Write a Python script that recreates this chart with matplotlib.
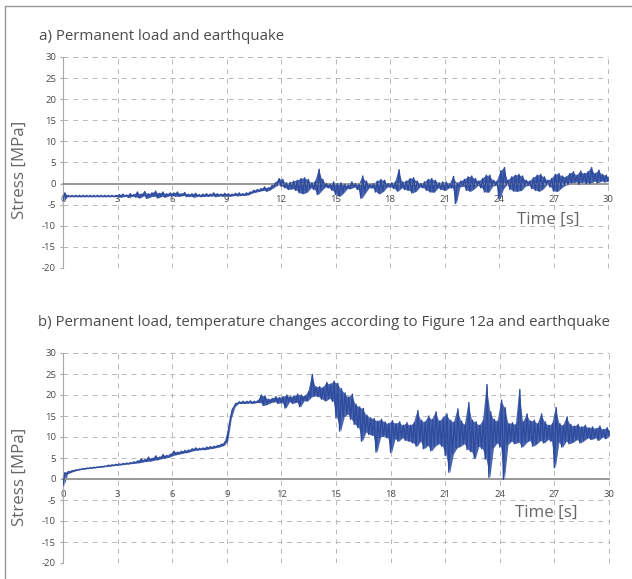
import numpy as np
import matplotlib
matplotlib.use("Agg")
import matplotlib.pyplot as plt
from matplotlib.lines import Line2D

plt.rcParams['font.family'] = ['Open Sans', 'DejaVu Sans']

# ---------------- data ----------------
T0 = 0.0
DT = 0.2  # sampling step of the envelope lists [s]

# Panel a: Permanent load and earthquake  (upper / lower envelope, every 0.2 s)
stress_a_hi = [
    -2.2, -2.8, -2.8, -2.8, -2.8,
    -2.8, -2.8, -2.8, -2.8, -2.8,
    -2.8, -2.8, -2.8, -2.8, -2.8,
    -2.6, -2.5, -2.7, -2.4, -2.6,
    -2.0, -2.5, -1.9, -2.4, -2.2,
    -1.8, -2.3, -2.0, -2.4, -2.2,
    -2.2, -2.0, -2.4, -2.1, -2.5,
    -2.4, -2.3, -2.6, -2.5, -2.4,
    -2.5, -2.2, -2.4, -2.5, -2.3,
    -2.4, -2.5, -2.3, -2.2, -2.4,
    -2.2, -2.0, -1.6, -1.4, -1.2,
    -0.8, -1.0, -0.5, 0.2, 1.2,
    1.0, 0.2, 0.3, 0.6, 0.8,
    1.2, 1.4, 1.0, 0.2, 0.6,
    3.4, 1.0, 0.0, -0.2, 0.4,
    0.0, 0.2, -0.2, -0.4, 0.4,
    0.0, -0.2, 1.8, 0.6, -0.2,
    0.0, 0.6, 1.0, 0.8, 0.0,
    0.2, 0.4, 3.3, 0.4, 0.6,
    1.2, 1.4, 0.6, 0.0, 0.4,
    1.0, 1.2, 0.8, 0.2, 0.4,
    0.4, 0.0, 1.7, 0.2, 0.6,
    1.0, 1.6, 1.8, 1.2, 0.6,
    1.2, 2.0, 2.0, 0.8, 0.6,
    3.0, 3.8, 0.8, 1.6, 2.0,
    2.2, 1.8, 0.8, 0.6, 1.4,
    2.0, 2.2, 1.6, 0.8, 1.2,
    2.2, 2.4, 1.8, 1.6, 2.4,
    2.8, 2.0, 3.0, 2.4, 2.8,
    3.8, 2.4, 3.2, 2.2, 2.0,
    1.5,
]
stress_a_lo = [
    -4.0, -3.1, -3.1, -3.1, -3.1,
    -3.1, -3.1, -3.1, -3.1, -3.1,
    -3.1, -3.1, -3.1, -3.1, -3.1,
    -3.1, -3.2, -3.0, -3.3, -3.0,
    -3.2, -3.4, -2.9, -3.5, -3.1,
    -3.0, -3.4, -3.0, -3.2, -2.9,
    -2.9, -3.0, -3.0, -2.8, -3.1,
    -3.0, -3.2, -3.0, -3.1, -3.0,
    -3.0, -2.9, -3.1, -2.9, -3.0,
    -2.9, -3.0, -2.8, -2.9, -2.8,
    -2.8, -2.6, -2.2, -2.0, -1.8,
    -1.6, -1.8, -1.4, -0.8, -0.3,
    -0.6, -1.0, -1.4, -1.2, -1.6,
    -2.2, -2.4, -2.0, -1.0, -1.4,
    -2.6, -1.6, -0.8, -1.0, -1.6,
    -2.6, -3.0, -2.2, -1.2, -1.2,
    -0.8, -1.4, -3.5, -2.2, -1.0,
    -1.0, -2.0, -2.4, -1.8, -0.8,
    -0.8, -1.2, -1.8, -1.0, -1.4,
    -1.6, -2.2, -1.8, -0.8, -1.0,
    -1.6, -2.0, -2.0, -1.0, -1.4,
    -1.6, -1.0, -1.0, -4.7, -0.8,
    -0.6, -1.6, -1.8, -1.2, -0.4,
    -1.0, -2.0, -2.0, -0.6, -0.4,
    -3.6, -1.2, -0.2, -1.4, -1.8,
    -1.8, -1.6, -0.6, -0.4, -1.2,
    -1.6, -1.8, -1.2, -0.2, -0.8,
    -1.8, -1.8, -1.0, -0.4, -0.2,
    0.2, 0.4, -0.2, 0.4, 0.0,
    0.0, 0.6, 0.2, 0.6, 0.4,
    0.6,
]

# Panel b: Permanent load, temperature changes and earthquake
stress_b_hi = [
    1.5, 1.8, 2.0, 2.2, 2.3,
    2.5, 2.6, 2.7, 2.8, 2.9,
    3.0, 3.1, 3.3, 3.4, 3.5,
    3.6, 3.7, 3.8, 3.9, 4.1,
    4.3, 4.8, 4.6, 5.2, 4.9,
    5.5, 5.2, 5.8, 5.6, 5.9,
    6.6, 6.4, 6.6, 6.8, 6.9,
    7.2, 7.4, 7.3, 7.4, 7.6,
    7.7, 7.8, 8.0, 8.3, 8.8,
    12.0, 16.5, 18.0, 18.4, 18.5,
    18.5, 18.6, 18.5, 18.6, 20.0,
    19.8, 19.0, 19.2, 19.6, 19.4,
    19.6, 20.0, 19.6, 19.8, 20.2,
    20.0, 19.8, 20.8, 24.9, 22.0,
    22.0, 21.8, 23.0, 22.6, 23.3,
    22.8, 21.5, 20.5, 19.5, 20.2,
    17.8, 17.2, 16.8, 15.2, 14.6,
    14.4, 13.8, 14.2, 13.6, 13.2,
    13.9, 13.2, 13.6, 12.8, 13.4,
    12.8, 13.4, 16.3, 14.0, 13.6,
    15.0, 14.2, 16.0, 13.8, 14.6,
    15.5, 14.0, 13.6, 16.7, 13.8,
    13.0, 18.2, 14.0, 13.6, 12.8,
    14.0, 22.5, 16.0, 14.2, 13.8,
    18.8, 17.0, 13.2, 13.4, 13.0,
    21.3, 13.6, 15.5, 13.8, 14.0,
    13.2, 15.5, 13.6, 12.8, 13.2,
    17.0, 13.2, 12.8, 14.8, 13.0,
    12.6, 13.0, 12.4, 12.8, 12.2,
    12.4, 12.0, 12.6, 11.8, 12.2,
    11.5,
]
stress_b_lo = [
    -1.6, 1.2, 1.6, 1.9, 2.1,
    2.3, 2.4, 2.5, 2.6, 2.7,
    2.8, 2.9, 3.0, 3.1, 3.2,
    3.3, 3.4, 3.5, 3.6, 3.7,
    3.8, 3.9, 4.1, 4.2, 4.3,
    4.5, 4.6, 4.9, 5.0, 5.2,
    5.6, 5.8, 6.0, 6.2, 6.3,
    6.6, 6.8, 6.9, 7.0, 7.0,
    7.2, 7.3, 7.5, 7.7, 8.0,
    9.0, 14.5, 17.2, 18.0, 18.0,
    18.0, 18.1, 18.0, 18.2, 18.2,
    17.5, 17.8, 18.2, 18.4, 18.0,
    18.2, 16.9, 18.4, 18.0, 18.3,
    17.2, 18.6, 18.6, 19.5, 19.8,
    19.6, 19.0, 18.6, 19.2, 18.5,
    14.5, 11.4, 14.8, 15.5, 14.2,
    13.0, 12.2, 9.0, 11.2, 10.6,
    10.4, 6.4, 10.0, 10.2, 9.8,
    6.3, 9.6, 9.0, 9.8, 9.2,
    9.0, 8.6, 7.8, 9.0, 7.2,
    8.0, 6.7, 7.8, 8.4, 7.8,
    5.6, 1.6, 6.0, 7.4, 7.8,
    8.4, 7.0, 6.5, 4.9, 7.8,
    7.2, 4.7, 0.4, 7.4, 8.6,
    7.6, -0.1, 8.2, 9.0, 8.4,
    8.8, 7.6, 8.6, 9.2, 7.8,
    8.4, 9.2, 8.6, 9.4, 9.0,
    2.7, 8.8, 7.6, 9.0, 8.4,
    8.8, 9.4, 8.6, 9.2, 9.8,
    9.4, 9.8, 9.2, 10.0, 9.6,
    10.5,
]

x_ticks = [0, 3, 6, 9, 12, 15, 18, 21, 24, 27, 30]
y_ticks = [-20, -15, -10, -5, 0, 5, 10, 15, 20, 25, 30]
title_a = "a) Permanent load and earthquake"
title_b = "b) Permanent load, temperature changes according to Figure 12a and earthquake"
ylabel = "Stress [MPa]"
xlabel = "Time [s]"

# ---------------- styling ----------------
LINE_COLOR = '#2d4b9f'
GRID_COLOR = '#b8b8b8'
W, H = 632, 579

fig = plt.figure(figsize=(W / 100, H / 100), dpi=100)


def fx(px):
    return px / W


def fy(py):
    return 1 - py / H


def zigzag(hi, lo):
    t = T0 + DT * np.arange(len(hi))
    xs = np.empty(2 * len(hi))
    ys = np.empty(2 * len(hi))
    xs[0::2] = t
    xs[1::2] = t + DT / 2
    ys[0::2] = lo
    ys[1::2] = hi
    return t, xs, ys


def make_panel(rect, hi, lo, title, title_xy, ylab_xy, xlab_xy):
    ax = fig.add_axes(rect)
    ax.set_xlim(0, 30)
    ax.set_ylim(-20, 30)
    t, xs, ys = zigzag(hi, lo)
    # solid body of the dense oscillation
    ax.fill_between(t + DT / 4, lo, hi, color=LINE_COLOR, lw=0, alpha=0.85, zorder=2)
    ax.plot(xs, ys, color=LINE_COLOR, lw=1.0, zorder=3)
    for s in ['top', 'right']:
        ax.spines[s].set_visible(False)
    ax.spines['bottom'].set_position(('data', 0))
    ax.spines['bottom'].set_color('#999999')
    ax.spines['bottom'].set_linewidth(1.4)
    ax.spines['left'].set_color('#aaaaaa')
    ax.spines['left'].set_linewidth(0.8)
    ax.set_xticks(x_ticks)
    ax.set_yticks(y_ticks)
    ax.set_xticklabels([str(v) for v in x_ticks])
    ax.set_yticklabels([str(v) for v in y_ticks])
    ax.tick_params(axis='x', length=0, pad=8, labelsize=6.8, labelcolor='#4a4a4a')
    ax.tick_params(axis='y', length=2, pad=3, labelsize=6.8, labelcolor='#4a4a4a',
                   color='#aaaaaa')
    ax.grid(True, color=GRID_COLOR, lw=0.7, linestyle=(0, (5, 5)), zorder=0)
    ax.axvline(30, color=GRID_COLOR, lw=0.7, linestyle=(0, (5, 5)), zorder=0, clip_on=False)
    ax.axhline(30, color=GRID_COLOR, lw=0.7, linestyle=(0, (5, 5)), zorder=0, clip_on=False)
    fig.text(fx(title_xy[0]), fy(title_xy[1]), title, fontsize=10.85, color='#4a4a4a',
             ha='left', va='center')
    fig.text(fx(ylab_xy[0]), fy(ylab_xy[1]), ylabel, fontsize=12.2, color='#666666',
             rotation=90, ha='center', va='center')
    fig.text(fx(xlab_xy[0]), fy(xlab_xy[1]), xlabel, fontsize=12.2, color='#666666',
             ha='center', va='center')
    return ax


make_panel([fx(63), fy(268), fx(608) - fx(63), fy(57) - fy(268)],
           stress_a_hi, stress_a_lo, title_a, (39, 37), (20, 170), (548, 220))
make_panel([fx(63), fy(563), fx(609) - fx(63), fy(353) - fy(563)],
           stress_b_hi, stress_b_lo, title_b, (38, 323), (20, 477), (546, 513))

# outer frame (top and left edges visible)
fig.add_artist(Line2D([fx(5), 1], [fy(6), fy(6)], color='#9a9a9a', lw=1.0))
fig.add_artist(Line2D([fx(5), fx(5)], [fy(6), 0], color='#9a9a9a', lw=1.0))

fig.savefig('out.png', dpi=100)
